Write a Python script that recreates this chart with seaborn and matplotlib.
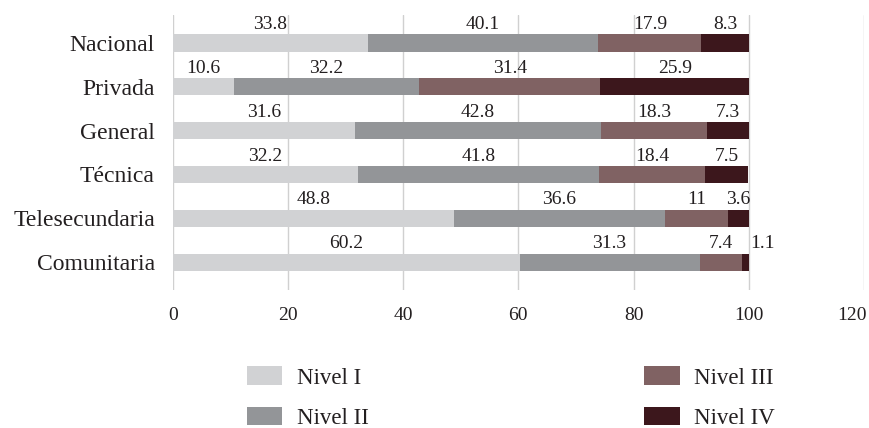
import numpy as np
import pandas as pd
import matplotlib.pyplot as plt
import seaborn as sns
from matplotlib.patches import Patch
from matplotlib.transforms import offset_copy

sns.set_theme(style="white")
plt.rcParams["font.family"] = ["Liberation Serif", "DejaVu Serif"]

categories = ["Nacional", "Privada", "General", "Técnica", "Telesecundaria", "Comunitaria"]
levels = ["Nivel I", "Nivel II", "Nivel III", "Nivel IV"]
nivel_1 = [33.8, 10.6, 31.6, 32.2, 48.8, 60.2]
nivel_2 = [40.1, 32.2, 42.8, 41.8, 36.6, 31.3]
nivel_3 = [17.9, 31.4, 18.3, 18.4, 11.0, 7.4]
nivel_4 = [8.3, 25.9, 7.3, 7.5, 3.6, 1.1]
colors = ["#D1D2D4", "#939598", "#806263", "#3C171C"]
text_col = "#231F20"

df = pd.DataFrame({"cat": categories, "Nivel I": nivel_1, "Nivel II": nivel_2,
                   "Nivel III": nivel_3, "Nivel IV": nivel_4})
vals = df[levels].to_numpy()
cum = np.cumsum(vals, axis=1)

fig = plt.figure(figsize=(8.69, 4.28), dpi=100)
ax = fig.add_axes([0.199, 0.322, 0.795, 0.643])

# draw cumulative totals from the last level back to the first
bh = 0.39
for i in range(len(levels) - 1, -1, -1):
    sns.barplot(x=cum[:, i], y=df["cat"], orient="h", color=colors[i],
                width=bh, saturation=1, linewidth=0, edgecolor="none", ax=ax)

for r in range(len(categories)):
    for i in range(len(levels)):
        v = vals[r, i]
        start = cum[r, i] - v
        if v < 2:
            # too thin: put the label just past the bar end
            x, ha = cum[r, i] + 0.2, "left"
        else:
            x, ha = start + v / 2, "center"
        ax.text(x, r - bh / 2 - 0.03, f"{v:g}", ha=ha, va="bottom",
                fontsize=14, color=text_col)

ax.set_xlim(0, 120)
ax.set_ylim(5.64, -0.64)
ax.set_xticks(range(0, 121, 20))
ax.xaxis.grid(True, color="#D0D0D0", linewidth=1)
ax.set_axisbelow(True)
for s in ax.spines.values():
    s.set_visible(False)
ax.set_xlabel("")
ax.set_ylabel("")
ax.tick_params(axis="x", length=0, labelsize=14, colors=text_col, pad=12)
ax.tick_params(axis="y", length=0, labelsize=17, colors=text_col, pad=13)

# keep the last tick label inside the figure
last = ax.get_xticklabels()[-1]
last.set_horizontalalignment("right")
last.set_transform(offset_copy(last.get_transform(), fig=fig, x=3, units="dots"))

handles = [Patch(facecolor=c, edgecolor="none") for c in colors]
fig.legend(handles, levels, loc="center", bbox_to_anchor=(0.588, 0.071), ncol=2,
           frameon=False, fontsize=16.5, handlelength=1.55, handleheight=0.88,
           columnspacing=12.0, labelspacing=0.78, handletextpad=0.65,
           labelcolor=text_col)

fig.savefig("out.png", dpi=100)
